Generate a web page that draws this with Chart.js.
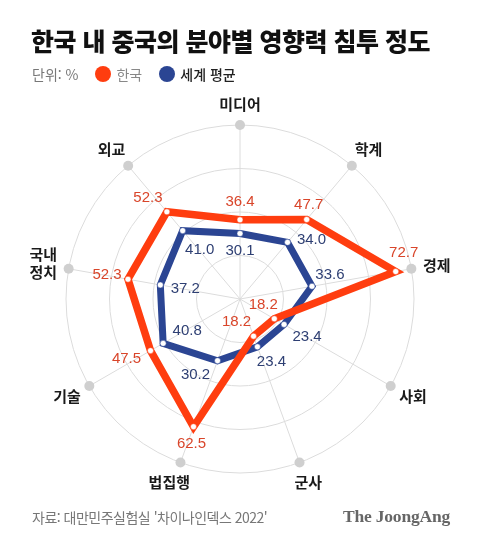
<!DOCTYPE html>
<html lang="ko">
<head>
    <meta charset="UTF-8" />
    <title>한국 내 중국의 분야별 영향력 침투 정도</title>
    <script src="https://cdn.jsdelivr.net/npm/chart.js"></script>
    <style>
        * { box-sizing: border-box; margin: 0; padding: 0; }

        body {
            width: 480px;
            height: 547px;
            background: #fff;
            font-family: 'Noto Sans CJK KR', 'Noto Sans', sans-serif;
            position: relative;
            overflow: hidden;
        }

        #wrap {
            position: absolute;
            left: 0; top: 0;
            width: 480px; height: 547px;
        }

        h1 {
            position: absolute;
            left: 31px; top: 23px;
            font-size: 25px;
            font-weight: 900;
            letter-spacing: -0.5px;
            line-height: 34px;
            color: #111;
            white-space: nowrap;
        }

        .legend {
            position: absolute;
            left: 32px; top: 63px;
            display: flex;
            align-items: center;
            font-size: 14px;
            line-height: 22px;
            color: #777;
        }

        .legend .dot {
            width: 16px; height: 16px;
            border-radius: 50%;
            display: inline-block;
            margin-right: 5px;
        }

        .legend .item { display: flex; align-items: center; margin-left: 17px; }
        .legend .kr { color: #888; }
        .legend .world { color: #222; font-weight: 500; }

        .source {
            position: absolute;
            left: 32px; top: 507px;
            font-size: 14px;
            letter-spacing: -0.5px;
            color: #777;
            white-space: nowrap;
        }

        .brand {
            position: absolute;
            left: 343px; top: 506px;
            font-family: 'Liberation Serif', serif;
            font-weight: 700;
            font-size: 17.5px;
            color: #666;
            letter-spacing: -0.2px;
        }
    </style>
</head>
<body>
    <div id="wrap"><canvas id="radarChart"></canvas></div>

    <h1>한국 내 중국의 분야별 영향력 침투 정도</h1>
    <div class="legend">
        <span>단위: %</span>
        <span class="item"><span class="dot" style="background:#ff3d0f"></span><span class="kr">한국</span></span>
        <span class="item"><span class="dot" style="background:#2b4593"></span><span class="world">세계 평균</span></span>
    </div>
    <div class="source">자료: 대만민주실험실 '차이나인덱스 2022'</div>
    <div class="brand">The JoongAng</div>

    <script>
        // data
        const categories = ['미디어', '학계', '경제', '사회', '군사', '법집행', '기술', '국내\n정치', '외교'];
        const korea = [36.4, 47.7, 72.7, 18.2, 18.2, 62.5, 47.5, 52.3, 52.3];
        const worldAvg = [30.1, 34.0, 33.6, 23.4, 23.4, 30.2, 40.8, 37.2, 41.0];
        const scaleMax = 80;
        const scaleStep = 20;

        const RED = '#ff3d0f';
        const NAVY = '#2b4593';

        // where each value label sits relative to its point (px)
        const labelOffsets = [
            [[0, -18], [2, -15], [8, -19], [-11, -14], [-17, -14], [-2, 17], [-24, 8], [-21, -4], [-19, -14]],
            [[0, 17], [24, -2], [18, -11], [23, 12], [14, 15], [-22, 14], [24, -13], [25, 4], [17, 19]]
        ];
        const labelColors = ['#d9452a', '#2e3f73'];

        // gray dots at the end of every spoke
        const spokeEnds = {
            id: 'spokeEnds',
            beforeDatasetsDraw(chart) {
                const scale = chart.scales.r;
                const ctx = chart.ctx;
                ctx.save();
                ctx.fillStyle = '#cfcfcf';
                categories.forEach((c, i) => {
                    const p = scale.getPointPosition(i, scale.drawingArea);
                    ctx.beginPath();
                    ctx.arc(p.x, p.y, 5, 0, Math.PI * 2);
                    ctx.fill();
                });
                ctx.restore();
            }
        };

        // category names outside the rings
        const axisNames = {
            id: 'axisNames',
            afterDraw(chart) {
                const scale = chart.scales.r;
                const ctx = chart.ctx;
                ctx.save();
                ctx.font = '700 15px "Noto Sans CJK KR", sans-serif';
                ctx.fillStyle = '#1a1a1a';
                ctx.textAlign = 'center';
                ctx.textBaseline = 'middle';
                const lineH = 18;
                categories.forEach((name, i) => {
                    const lines = name.split('\n');
                    const w = Math.max(...lines.map(l => ctx.measureText(l).width));
                    const h = lines.length * lineH;
                    const p = scale.getPointPosition(i, scale.drawingArea + 12);
                    const a = i * 2 * Math.PI / categories.length;
                    const cx = p.x + Math.sin(a) * w / 2;
                    const cy = p.y - Math.cos(a) * h / 2;
                    lines.forEach((l, k) => {
                        ctx.fillText(l, cx, cy - h / 2 + lineH / 2 + k * lineH);
                    });
                });
                ctx.restore();
            }
        };

        // numbers beside each point
        const valueLabels = {
            id: 'valueLabels',
            afterDatasetsDraw(chart) {
                const ctx = chart.ctx;
                ctx.save();
                ctx.font = '15px "Liberation Sans", Arial, sans-serif';
                ctx.textAlign = 'center';
                ctx.textBaseline = 'middle';
                chart.data.datasets.forEach((ds, d) => {
                    const meta = chart.getDatasetMeta(d);
                    ctx.fillStyle = labelColors[d];
                    meta.data.forEach((pt, i) => {
                        const off = labelOffsets[d][i];
                        ctx.fillText(ds.data[i].toFixed(1), pt.x + off[0], pt.y + off[1]);
                    });
                });
                ctx.restore();
            }
        };

        new Chart(document.getElementById('radarChart'), {
            type: 'radar',
            data: {
                labels: categories,
                datasets: [
                    {
                        label: '한국',
                        data: korea,
                        borderColor: RED,
                        borderWidth: 7.5,
                        borderJoinStyle: 'miter',
                        backgroundColor: 'transparent',
                        fill: false,
                        pointRadius: 3,
                        pointBackgroundColor: '#fff',
                        pointBorderColor: RED,
                        pointBorderWidth: 0.5
                    },
                    {
                        label: '세계 평균',
                        data: worldAvg,
                        borderColor: NAVY,
                        borderWidth: 7,
                        borderJoinStyle: 'miter',
                        backgroundColor: 'transparent',
                        fill: false,
                        pointRadius: 3,
                        pointBackgroundColor: '#fff',
                        pointBorderColor: NAVY,
                        pointBorderWidth: 0.5
                    }
                ]
            },
            options: {
                responsive: true,
                maintainAspectRatio: false,
                animation: false,
                layout: { padding: { top: 125, bottom: 74, left: 66, right: 66 } },
                plugins: {
                    legend: { display: false },
                    tooltip: { enabled: false }
                },
                scales: {
                    r: {
                        min: 0,
                        max: scaleMax,
                        ticks: { display: false, stepSize: scaleStep },
                        grid: { circular: true, color: '#dcdcdc', lineWidth: 1 },
                        angleLines: { color: '#dcdcdc', lineWidth: 1 },
                        pointLabels: { display: false }
                    }
                }
            },
            plugins: [spokeEnds, axisNames, valueLabels]
        });
    </script>
</body>
</html>
